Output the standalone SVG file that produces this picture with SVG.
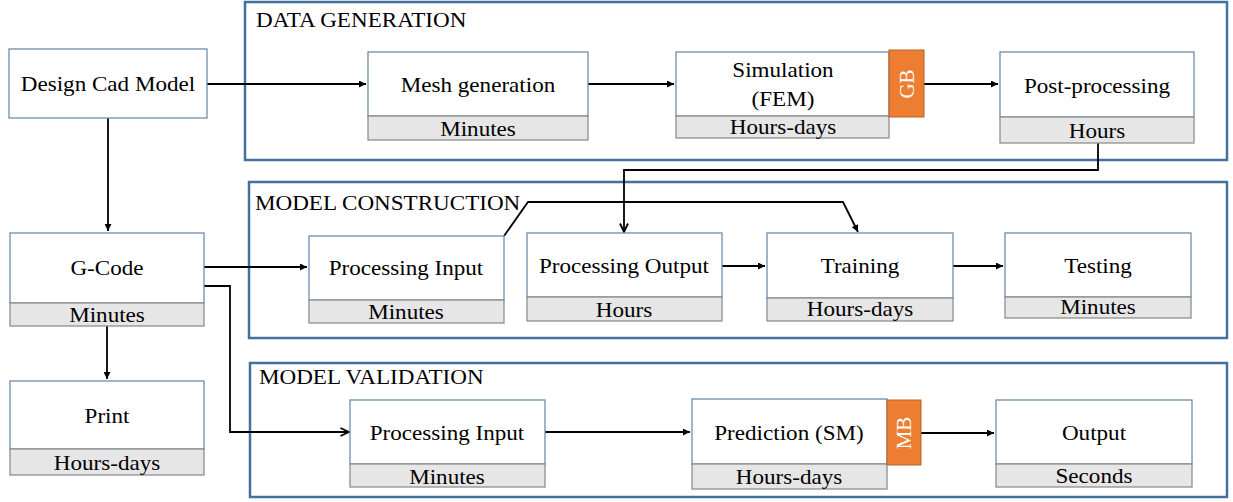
<svg xmlns="http://www.w3.org/2000/svg" width="1233" height="502" viewBox="0 0 1233 502">
<defs>
<style>
.bg{fill:#ffffff}
.cont{fill:none;stroke:#41719c;stroke-width:2.5}
.box{fill:#ffffff;stroke:#6f8cab;stroke-width:1.3}
.cell{fill:#e7e6e6;stroke:#8f8f8f;stroke-width:1.3}
.tag{fill:#ed7d31;stroke:#b5642a;stroke-width:1}
text{font-family:"Liberation Serif","Times New Roman",serif;font-size:21px;fill:#000}
text:not(.w){transform-box:fill-box;transform-origin:center;transform:scaleX(1.1)}
text.h{transform-origin:left center}
.c{text-anchor:middle}
.w{fill:#ffffff}
.ln{fill:none;stroke:#000;stroke-width:1.8}
</style>
<marker id="ah" viewBox="0 0 10 10" refX="10" refY="5" markerWidth="9" markerHeight="7" markerUnits="userSpaceOnUse" orient="auto">
<path d="M0,0 L10,5 L0,10 z" fill="#000"/>
</marker>
<marker id="ao" viewBox="0 0 10 10" refX="9.5" refY="5" markerWidth="10" markerHeight="10" markerUnits="userSpaceOnUse" orient="auto">
<path d="M1,1 L9.5,5 L1,9" fill="none" stroke="#000" stroke-width="1.8"/>
</marker>
</defs>
<rect class="bg" x="0" y="0" width="1233" height="502"/>

<g id="data-generation">
<rect class="cont" x="245" y="2" width="982" height="158"/>
<text class="h" x="256" y="27">DATA GENERATION</text>
</g>
<g id="model-construction">
<rect class="cont" x="249" y="182" width="978" height="156"/>
<text class="h" x="255" y="210">MODEL CONSTRUCTION</text>
</g>
<g id="model-validation">
<rect class="cont" x="250" y="363" width="977" height="134"/>
<text class="h" x="259" y="384">MODEL VALIDATION</text>
</g>

<g id="connectors">
<path class="ln" d="M207,84 H366" marker-end="url(#ah)"/>
<path class="ln" d="M588,84 H674" marker-end="url(#ah)"/>
<path class="ln" d="M924,84 H998" marker-end="url(#ah)"/>
<path class="ln" d="M108,118 V231" marker-end="url(#ah)"/>
<path class="ln" d="M1098,143 V170 H624 V232" marker-end="url(#ao)"/>
<path class="ln" d="M204,267 H307" marker-end="url(#ah)"/>
<path class="ln" d="M204,286 H230 V432 H349" marker-end="url(#ao)"/>
<path class="ln" d="M504,236 L528,202 H843 L858,232" marker-end="url(#ah)"/>
<path class="ln" d="M722,266 H765" marker-end="url(#ah)"/>
<path class="ln" d="M953,266 H1003" marker-end="url(#ah)"/>
<path class="ln" d="M107,326 V379" marker-end="url(#ah)"/>
<path class="ln" d="M545,432 H690" marker-end="url(#ah)"/>
<path class="ln" d="M921,433 H994" marker-end="url(#ah)"/>
</g>

<g id="design-cad-model">
<rect class="box" x="9" y="49" width="198" height="69"/>
<text class="c" x="108" y="91">Design Cad Model</text>
</g>
<g id="mesh-generation">
<rect class="box" x="368" y="52" width="220" height="64"/>
<rect class="cell" x="368" y="116" width="220" height="24"/>
<text class="c" x="478" y="92">Mesh generation</text>
<text class="c" x="478" y="136">Minutes</text>
</g>
<g id="simulation">
<rect class="box" x="676" y="52" width="213" height="64"/>
<rect class="cell" x="676" y="116" width="213" height="22"/>
<text class="c" x="783" y="77">Simulation</text>
<text class="c" x="783" y="106">(FEM)</text>
<text class="c" x="783" y="134">Hours-days</text>
<rect class="tag" x="889" y="50" width="35" height="67"/>
<text class="c w" transform="translate(914,84) rotate(-90)">GB</text>
</g>
<g id="post-processing">
<rect class="box" x="1000" y="52" width="194" height="65"/>
<rect class="cell" x="1000" y="117" width="194" height="26"/>
<text class="c" x="1097" y="93">Post-processing</text>
<text class="c" x="1097" y="138">Hours</text>
</g>
<g id="g-code">
<rect class="box" x="10" y="233" width="194" height="70"/>
<rect class="cell" x="10" y="303" width="194" height="23"/>
<text class="c" x="107" y="275">G-Code</text>
<text class="c" x="107" y="322">Minutes</text>
</g>
<g id="processing-input-construction">
<rect class="box" x="309" y="236" width="195" height="64"/>
<rect class="cell" x="309" y="300" width="195" height="23"/>
<text class="c" x="406" y="275">Processing Input</text>
<text class="c" x="406" y="319">Minutes</text>
</g>
<g id="processing-output">
<rect class="box" x="527" y="233" width="195" height="64"/>
<rect class="cell" x="527" y="297" width="195" height="24"/>
<text class="c" x="624" y="273">Processing Output</text>
<text class="c" x="624" y="317">Hours</text>
</g>
<g id="training">
<rect class="box" x="767" y="233" width="186" height="65"/>
<rect class="cell" x="767" y="298" width="186" height="23"/>
<text class="c" x="860" y="273">Training</text>
<text class="c" x="860" y="316">Hours-days</text>
</g>
<g id="testing">
<rect class="box" x="1005" y="233" width="186" height="64"/>
<rect class="cell" x="1005" y="297" width="186" height="21"/>
<text class="c" x="1098" y="273">Testing</text>
<text class="c" x="1098" y="314">Minutes</text>
</g>
<g id="print">
<rect class="box" x="10" y="381" width="194" height="68"/>
<rect class="cell" x="10" y="449" width="194" height="26"/>
<text class="c" x="107" y="423">Print</text>
<text class="c" x="107" y="470">Hours-days</text>
</g>
<g id="processing-input-validation">
<rect class="box" x="350" y="400" width="195" height="64"/>
<rect class="cell" x="350" y="464" width="195" height="23"/>
<text class="c" x="447" y="440">Processing Input</text>
<text class="c" x="447" y="484">Minutes</text>
</g>
<g id="prediction">
<rect class="box" x="692" y="399" width="195" height="65"/>
<rect class="cell" x="692" y="464" width="195" height="25"/>
<text class="c" x="789" y="440">Prediction (SM)</text>
<text class="c" x="789" y="484">Hours-days</text>
<rect class="tag" x="887" y="400" width="34" height="65"/>
<text class="c w" transform="translate(911,433) rotate(-90)">MB</text>
</g>
<g id="output">
<rect class="box" x="996" y="400" width="196" height="64"/>
<rect class="cell" x="996" y="464" width="196" height="23"/>
<text class="c" x="1094" y="440">Output</text>
<text class="c" x="1094" y="483">Seconds</text>
</g>
</svg>
